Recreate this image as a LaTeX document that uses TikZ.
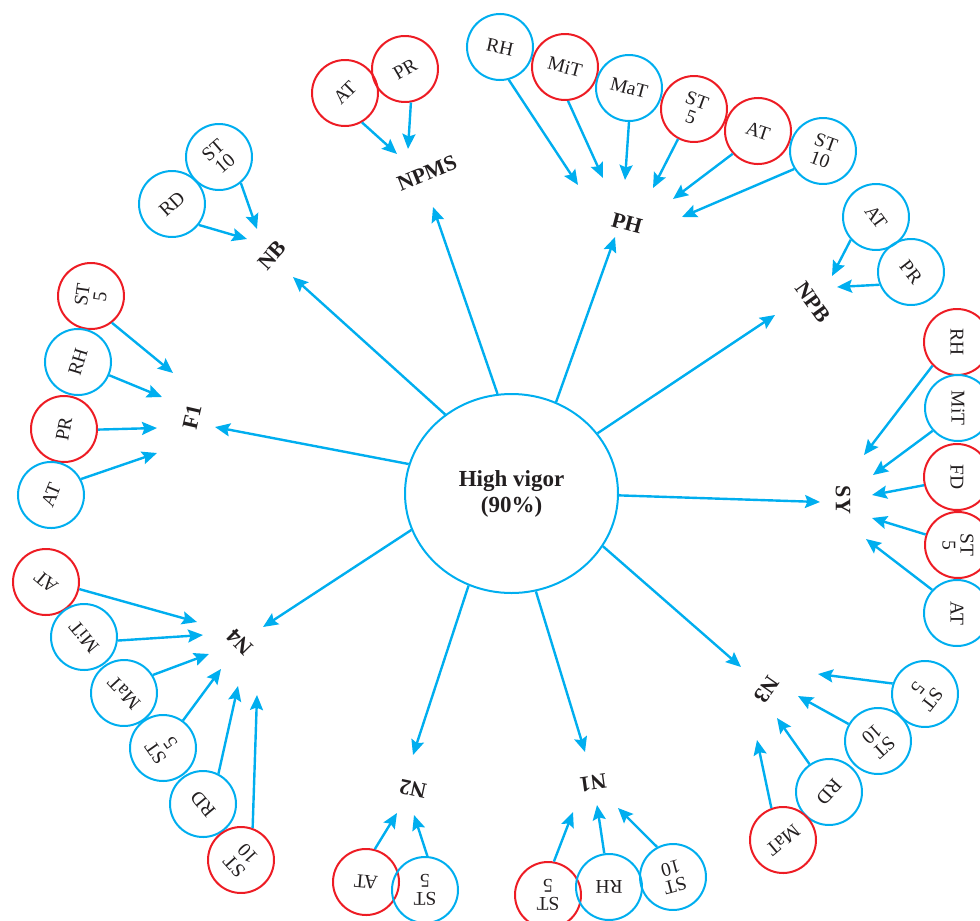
\documentclass[tikz,border=0pt]{standalone}
\usepackage{fontspec}
\setmainfont{Liberation Serif}
\usetikzlibrary{arrows.meta,shapes.geometric}
\definecolor{cb}{RGB}{0,174,239}
\definecolor{cr}{RGB}{237,28,36}
\definecolor{txt}{RGB}{35,31,32}
% name, style, position, text rotation, text, start angle (screen), arrow tip
\newcommand\factornode[7]{%
  \node[#2, rotate=#4] (#1) at (#3) {#5};
  \pgfmathsetmacro\startang{#6-(#4)}%
  \coordinate (#1tip) at (#7);
  \draw[arr] (#1.\startang) -- (#1tip);}
\newcommand\mainarrow[3]{\coordinate (#1) at (#3); \draw[arr] (hv.#2) -- (#1);}
\begin{document}
\begin{tikzpicture}[x=1pt,y=-1pt,
 sc/.style={circle, line width=2pt, minimum size=66pt, inner sep=0pt, align=center,
   font=\fontsize{19.5}{18}\selectfont, text=txt},
 bc/.style={sc, draw=cb}, rc/.style={sc, draw=cr},
 lab/.style={font=\bfseries\fontsize{22}{22}\selectfont, text=txt, inner sep=0pt},
 arr/.style={draw=cb, line width=2.4pt, -{Stealth[length=15pt,width=13pt,inset=2.5pt]}}]
\useasboundingbox (0,0) rectangle (980,921);

% centre
\node[ellipse, draw=cb, line width=2pt, minimum width=213pt, minimum height=199pt, inner sep=0pt,
  align=center, font=\bfseries\fontsize{23}{26}\selectfont, text=txt] (hv) at (511.5,493.5) {High vigor\\(90\%)};

% labels
\node[lab, rotate=22] (NPMS) at (427,173) {NPMS};
\node[lab, rotate=-15] (PH) at (627,223) {PH};
\node[lab, rotate=-54] (NPB) at (813,302) {NPB};
\node[lab, rotate=-90] (SY) at (843,500) {SY};
\node[lab, rotate=-125] (N3) at (767,690) {N3};
\node[lab, rotate=-172] (N1) at (593,783) {N1};
\node[lab, rotate=168] (N2) at (413,789) {N2};
\node[lab, rotate=135] (N4) at (240,642) {N4};
\node[lab, rotate=77] (F1) at (192,417) {F1};
\node[lab, rotate=48] (NB) at (272,255) {NB};

% main arrows
\mainarrow{tNPMS}{98}{433,207}
\mainarrow{tPH}{64}{615,237}
\mainarrow{tNPB}{35}{775,315}
\mainarrow{tSY}{-1}{820,502}
\mainarrow{tN3}{-30}{741,667}
\mainarrow{tN1}{-76}{585,752}
\mainarrow{tN2}{-115}{413,755}
\mainarrow{tN4}{-160}{263,627}
\mainarrow{tF1}{164}{215,427}
\mainarrow{tNB}{130}{293,277}

% NPMS
\factornode{npA}{rc}{345,93}{45}{AT}{-60}{397,154}
\factornode{npB}{rc}{405,69}{30}{PR}{-80}{408,149}

% PH
\factornode{phA}{bc}{500,47}{-12}{RH}{-75}{578,185}
\factornode{phB}{rc}{565,67}{-15}{MiT}{-85}{603,178}
\factornode{phC}{bc}{629,88}{-15}{MaT}{-90}{625,180}
\factornode{phD}{rc}{694,109}{-20}{ST\\5}{-118}{653,188}
\factornode{phE}{rc}{758,131}{-18}{AT}{-138}{673,199}
\factornode{phF}{bc}{823,151}{-20}{ST\\10}{-148}{682,217}

% NPB
\factornode{nbA}{bc}{876,217}{-54}{AT}{-138}{832,276}
\factornode{nbB}{bc}{911,272}{-52}{PR}{-158}{837,287}

% SY
\factornode{syA}{rc}{957,342}{-90}{RH}{-136}{864,455}
\factornode{syB}{bc}{958,408}{-90}{MiT}{-138}{873,475}
\factornode{syC}{rc}{957,477}{-90}{FD}{-166}{872,495}
\factornode{syD}{rc}{958,545}{-90}{ST\\5}{162}{872,518}
\factornode{syE}{bc}{957,613}{-90}{AT}{137}{866,539}

% N3
\factornode{n3A}{bc}{925,694}{-128}{ST\\5}{162}{818,674}
\factornode{n3B}{bc}{878,741}{-138}{ST\\10}{150}{798,696}
\factornode{n3C}{bc}{829,792}{-132}{RD}{125}{777,718}
\factornode{n3D}{rc}{783,840}{-140}{MaT}{110}{757,740}

% N1
\factornode{n1A}{rc}{548,895}{180}{ST\\5}{80}{573,812}
\factornode{n1B}{bc}{609,887}{180}{RH}{98}{597,805}
\factornode{n1C}{bc}{673,877}{-165}{ST\\10}{118}{618,808}

% N2
\factornode{n2A}{rc}{366,882}{175}{AT}{75}{397,813}
\factornode{n2B}{bc}{425,890}{180}{ST\\5}{86}{414,815}

% N4
\factornode{n4A}{rc}{46,582}{140}{AT}{-12}{197,622}
\factornode{n4B}{bc}{84,637}{130}{MiT}{-6}{203,635}
\factornode{n4C}{bc}{124,693}{133}{MaT}{32}{209,654}
\factornode{n4D}{bc}{163,748}{125}{ST\\5}{54}{221,669}
\factornode{n4E}{bc}{203,804}{130}{RD}{63}{238,686}
\factornode{n4F}{rc}{241,860}{132}{ST\\10}{70}{257,695}

% F1
\factornode{f1A}{rc}{91,296}{82}{ST\\5}{-52}{173,373}
\factornode{f1B}{bc}{78,362}{73}{RH}{-23}{162,397}
\factornode{f1C}{rc}{64,429}{80}{PR}{-1}{157,428}
\factornode{f1D}{bc}{51,495}{68}{AT}{28}{157,453}

% NB
\factornode{nbbA}{bc}{219,157}{41}{ST\\10}{-50}{257,229}
\factornode{nbbB}{bc}{172,204}{42}{RD}{-38}{247,239}
\end{tikzpicture}
\end{document}
